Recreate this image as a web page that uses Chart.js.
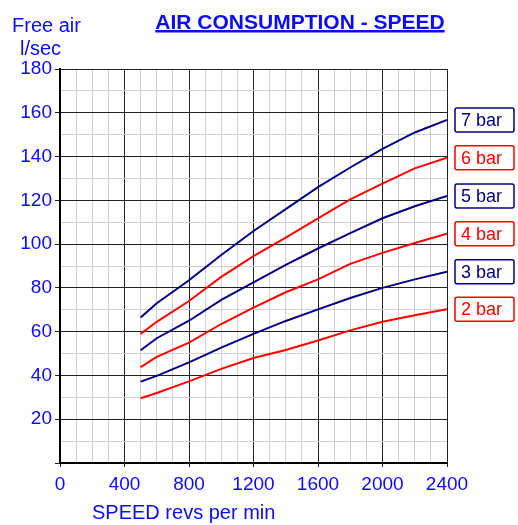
<!DOCTYPE html>
<html>
<head>
<meta charset="utf-8">
<script src="https://cdn.jsdelivr.net/npm/chart.js@4/dist/chart.umd.min.js"></script>
<style>
  html, body { margin: 0; padding: 0; background: #fff; }
  #wrap { width: 518px; height: 525px; }
</style>
</head>
<body>
<div id="wrap"><canvas id="airChart" width="518" height="525"></canvas></div>
<script>
// speed in revs per min
const speeds = [500, 600, 800, 1000, 1200, 1400, 1600, 1800, 2000, 2200, 2400];

// free air l/sec, one line per pressure
const bar7 = [66.5, 73, 83.5, 95, 106, 116, 126, 135, 143.5, 151, 156.7];
const bar6 = [59, 64.5, 74, 85, 94.5, 103, 111.8, 120.4, 127.6, 134.6, 139.5];
const bar5 = [51.5, 57, 65, 74.5, 82.5, 90.5, 98, 105, 111.8, 117.3, 122];
const bar4 = [43.8, 48.5, 55, 63.5, 71, 78, 83.9, 91, 96, 100.5, 104.7];
const bar3 = [37.2, 39.8, 46, 52.7, 59, 64.9, 70.2, 75.4, 80, 83.9, 87.4];
const bar2 = [29.6, 32, 37.3, 43, 48, 51.6, 56, 60.6, 64.5, 67.5, 70.2];

const seriesNames = ['7 bar', '6 bar', '5 bar', '4 bar', '3 bar', '2 bar'];
const seriesValues = [bar7, bar6, bar5, bar4, bar3, bar2];

const xTickLabels = [0, 400, 800, 1200, 1600, 2000, 2400];
const yTickLabels = [20, 40, 60, 80, 100, 120, 140, 160, 180];

const NAVY = '#000080';
const RED = '#ff0000';
const TEXT_BLUE = '#0a0aff';
const FONT = '"Liberation Sans", Arial, sans-serif';

const datasets = seriesNames.map((name, i) => ({
    label: name,
    data: speeds.map((s, j) => ({ x: s, y: seriesValues[i][j] })),
    borderColor: i % 2 === 0 ? NAVY : RED,
    borderWidth: 2,
    pointRadius: 0,
    tension: 0,
    fill: false,
}));

// title, axis captions and the boxed labels at the line ends
const decorations = {
    id: 'decorations',
    afterDraw(chart) {
        const { ctx, scales: { y } } = chart;
        ctx.save();

        ctx.fillStyle = TEXT_BLUE;
        ctx.font = 'bold 21px ' + FONT;
        ctx.textAlign = 'center';
        ctx.textBaseline = 'alphabetic';
        const title = 'AIR CONSUMPTION - SPEED';
        ctx.fillText(title, 300, 28.5);
        const tw = ctx.measureText(title).width;
        ctx.fillRect(300 - tw / 2, 30, tw, 2.5);

        ctx.font = '20px ' + FONT;
        ctx.textAlign = 'left';
        ctx.fillText('Free air', 12, 32);
        ctx.fillText('l/sec', 20, 55);
        ctx.fillText('SPEED revs per min', 92, 519);

        ctx.font = '18px ' + FONT;
        seriesNames.forEach((name, i) => {
            const vals = seriesValues[i];
            const cy = y.getPixelForValue(vals[vals.length - 1]);
            const col = i % 2 === 0 ? NAVY : RED;
            const bx = 455, bw = 59, bh = 24;
            ctx.strokeStyle = col;
            ctx.lineWidth = 1.5;
            ctx.beginPath();
            ctx.roundRect(bx, cy - bh / 2, bw, bh, 2);
            ctx.stroke();
            ctx.fillStyle = col;
            ctx.textBaseline = 'middle';
            ctx.fillText(name, bx + 6, cy + 1);
        });

        ctx.restore();
    }
};

new Chart(document.getElementById('airChart'), {
    type: 'line',
    data: { datasets },
    plugins: [decorations],
    options: {
        responsive: false,
        animation: false,
        layout: { padding: { left: 0, right: 71, top: 69, bottom: 0 } },
        plugins: { legend: { display: false }, tooltip: { enabled: false } },
        scales: {
            x: {
                type: 'linear',
                min: 0,
                max: 2400,
                afterFit: (s) => { s.height = 62; },
                border: { display: true, color: '#000', width: 2 },
                grid: {
                    color: (c) => (c.tick.value % 400 === 0 ? '#222' : '#cfcfcf'),
                    tickColor: (c) => (c.tick.value % 400 === 0 ? '#222' : 'rgba(0,0,0,0)'),
                    tickLength: 4,
                    lineWidth: 1,
                },
                ticks: {
                    stepSize: 100,
                    autoSkip: false,
                    maxRotation: 0,
                    padding: 6,
                    color: TEXT_BLUE,
                    font: { family: FONT, size: 19 },
                    callback: (v) => (xTickLabels.includes(v) ? String(v) : ''),
                },
            },
            y: {
                min: 0,
                max: 180,
                afterFit: (s) => { s.width = 60; },
                border: { display: true, color: '#000', width: 2 },
                grid: {
                    color: (c) => (c.tick.value % 20 === 0 ? '#222' : '#cfcfcf'),
                    tickColor: (c) => (c.tick.value % 20 === 0 ? '#222' : 'rgba(0,0,0,0)'),
                    tickLength: 5,
                    lineWidth: 1,
                },
                ticks: {
                    stepSize: 10,
                    autoSkip: false,
                    padding: 3,
                    color: TEXT_BLUE,
                    font: { family: FONT, size: 19 },
                    callback: (v) => (yTickLabels.includes(v) ? String(v) : ''),
                },
            },
        },
    },
});
</script>
</body>
</html>
